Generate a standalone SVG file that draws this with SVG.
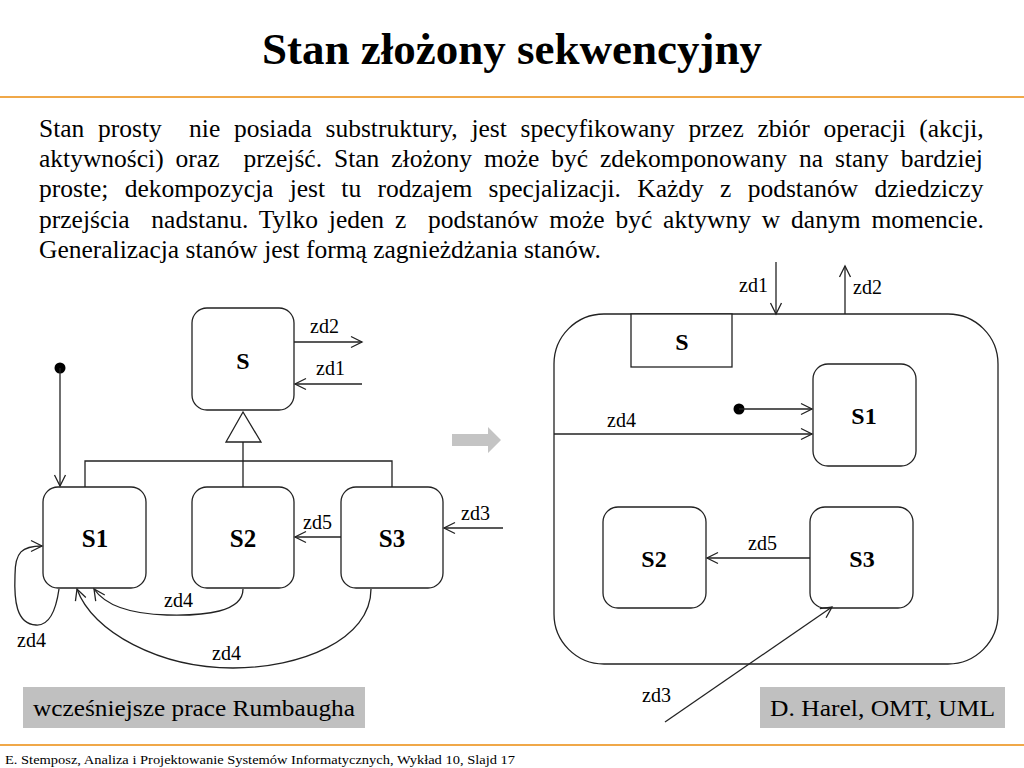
<svg xmlns="http://www.w3.org/2000/svg" width="1024" height="768" viewBox="0 0 1024 768">
<defs>
<style>
text{font-family:"Liberation Serif","Times New Roman",serif;fill:#000}
.title{font-family:"Liberation Serif","Times New Roman",serif;font-size:45px;font-weight:bold}
.para{font-family:"Liberation Serif","Times New Roman",serif;font-size:25.5px;white-space:pre}
.lbl{font-family:"Liberation Serif","Times New Roman",serif;font-size:20px}
.nm{font-family:"Liberation Serif","Times New Roman",serif;font-size:25px;font-weight:bold}
.box{font-family:"Liberation Serif","Times New Roman",serif;font-size:24px}
.st{fill:#fff;stroke:#222;stroke-width:1.3}
.ln{fill:none;stroke:#222;stroke-width:1.3}
.arr{fill:none;stroke:#222;stroke-width:1.3;marker-end:url(#open)}
</style>
<marker id="open" markerUnits="userSpaceOnUse" markerWidth="14" markerHeight="14" viewBox="0 0 14 14" refX="12" refY="7" orient="auto">
<path d="M1,1.5 L12,7 L1,12.5" fill="none" stroke="#222" stroke-width="1.3"/>
</marker>
</defs>
<rect width="1024" height="768" fill="#fff"/>
<text class="title" x="512" y="64" text-anchor="middle">Stan złożony sekwencyjny</text>
<line x1="0" y1="97" x2="1024" y2="97" stroke="#f0a848" stroke-width="2"/>
<g id="paragraph">
<text class="para" x="39" y="137" word-spacing="7.3">Stan prosty  nie posiada substruktury, jest specyfikowany przez zbiór operacji (akcji,</text>
<text class="para" x="39" y="167" word-spacing="5.6">aktywności) oraz  przejść. Stan złożony może być zdekomponowany na stany bardziej</text>
<text class="para" x="39" y="197" word-spacing="9.9">proste; dekompozycja jest tu rodzajem specjalizacji. Każdy z podstanów dziedziczy</text>
<text class="para" x="39" y="228" word-spacing="4.5">przejścia  nadstanu. Tylko jeden z  podstanów może być aktywny w danym momencie.</text>
<text class="para" x="39" y="258">Generalizacja stanów jest formą zagnieżdżania stanów.</text>
</g>

<!-- Left diagram -->
<g id="L_S"><rect class="st" x="192" y="308" width="102" height="102" rx="15"/><text class="nm" x="243" y="369" text-anchor="middle" style="font-size:24px">S</text></g>
<g id="L_S1"><rect class="st" x="43" y="487" width="103" height="101" rx="15"/><text class="nm" x="95" y="547" text-anchor="middle">S1</text></g>
<g id="L_S2"><rect class="st" x="192" y="487" width="102" height="101" rx="15"/><text class="nm" x="243" y="547" text-anchor="middle">S2</text></g>
<g id="L_S3"><rect class="st" x="341" y="487" width="102" height="101" rx="15"/><text class="nm" x="392" y="547" text-anchor="middle">S3</text></g>
<g id="L_init"><circle cx="60" cy="368" r="5.5" fill="#000"/></g>
<g id="L_connectors">
<polygon points="243,412 226,442 261,442" fill="#fff" stroke="#222" stroke-width="1.3"/>
<path class="ln" d="M243,442 V487 M85,487 V461 H392 V487"/>
<path class="arr" d="M294,342 H362"/>
<path class="arr" d="M362,384 H295"/>
<path class="arr" d="M60,368 V486"/>
<path class="arr" d="M341,537 H295"/>
<path class="arr" d="M503,528 H444"/>
<path class="arr" d="M59,589 C56,610 50,626 36,625 C16,624 14,600 15,575 C15,552 22,546 42,546"/>
<path class="arr" d="M243,589 C243,612 205,616 167,615 C130,614 105,605 94,589"/>
<path class="arr" d="M371,589 C371,640 300,668 233,668 C160,668 92,632 77,589"/>
<text class="lbl" x="310" y="333">zd2</text>
<text class="lbl" x="316" y="375">zd1</text>
<text class="lbl" x="303" y="529">zd5</text>
<text class="lbl" x="461" y="520">zd3</text>
<text class="lbl" x="164" y="607">zd4</text>
<text class="lbl" x="17" y="647">zd4</text>
<text class="lbl" x="212" y="660">zd4</text>
</g>

<g id="transform_arrow"><polygon points="452,434 488,434 488,427 501,440 488,453 488,446 452,446" fill="#c4c4c4"/></g>

<!-- Right diagram -->
<g id="R_S"><rect class="st" x="554" y="314" width="444" height="350" rx="50"/><rect class="st" x="631" y="314" width="101" height="53" rx="0"/><text class="nm" x="682" y="350" text-anchor="middle" style="font-size:24px">S</text></g>
<g id="R_S1"><rect class="st" x="813" y="364" width="103" height="102" rx="15"/><text class="nm" x="864" y="424" text-anchor="middle" style="font-size:24px">S1</text></g>
<g id="R_S2"><rect class="st" x="603" y="507" width="103" height="101" rx="15"/><text class="nm" x="654" y="567" text-anchor="middle" style="font-size:24px">S2</text></g>
<g id="R_S3"><rect class="st" x="810" y="507" width="103" height="101" rx="15"/><text class="nm" x="862" y="567" text-anchor="middle" style="font-size:24px">S3</text></g>
<g id="R_init"><circle cx="739" cy="409" r="5.5" fill="#000"/></g>
<g id="R_connectors">
<path class="arr" d="M776,262 V314"/>
<path class="arr" d="M845,314 V266"/>
<path class="arr" d="M739,409 H812"/>
<path class="arr" d="M554,434 H812"/>
<path class="arr" d="M810,558 H707"/>
<path class="arr" d="M665,722 L832,607"/>
<text class="lbl" x="739" y="292">zd1</text>
<text class="lbl" x="853" y="294">zd2</text>
<text class="lbl" x="607" y="427">zd4</text>
<text class="lbl" x="748" y="550">zd5</text>
<text class="lbl" x="642" y="702">zd3</text>
</g>

<g id="caption_left"><rect x="23" y="687" width="342" height="41" fill="#c0c0c0"/><text class="box" x="33" y="716" textLength="322" lengthAdjust="spacingAndGlyphs">wcześniejsze prace Rumbaugha</text></g>
<g id="caption_right"><rect x="760" y="687" width="245" height="41" fill="#c0c0c0"/><text class="box" x="770" y="716" textLength="225" lengthAdjust="spacingAndGlyphs">D. Harel, OMT, UML</text></g>

<line x1="0" y1="745" x2="1024" y2="745" stroke="#f0a848" stroke-width="2"/>
<text x="5" y="764" style="font-size:13px" textLength="510" lengthAdjust="spacingAndGlyphs">E. Stemposz, Analiza i Projektowanie Systemów Informatycznych, Wykład 10, Slajd 17</text>
</svg>
